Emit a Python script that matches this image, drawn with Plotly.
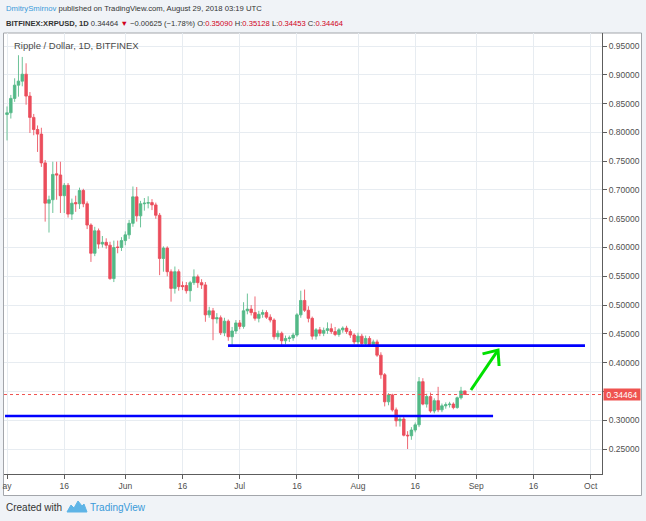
import plotly.graph_objects as go
import pandas as pd

# ---- daily XRPUSD candles, 1 May 2018 .. 29 Aug 2018 ----
start_date = "2018-05-01"
opens = [0.831, 0.834, 0.859, 0.882, 0.889, 0.901, 0.863, 0.826, 0.805, 0.797,
         0.747, 0.677, 0.683, 0.728, 0.726, 0.690, 0.708, 0.658, 0.678, 0.676,
         0.699, 0.676, 0.639, 0.590, 0.629, 0.606, 0.609, 0.604, 0.546, 0.601,
         0.600, 0.612, 0.622, 0.642, 0.688, 0.655, 0.676, 0.677, 0.678, 0.674,
         0.656, 0.581, 0.599, 0.558, 0.529, 0.558, 0.534, 0.534, 0.525, 0.539,
         0.549, 0.539, 0.535, 0.483, 0.490, 0.476, 0.478, 0.452, 0.472, 0.445,
         0.455, 0.469, 0.463, 0.490, 0.493, 0.487, 0.477, 0.484, 0.487, 0.479,
         0.474, 0.445, 0.451, 0.438, 0.442, 0.443, 0.448, 0.483, 0.508, 0.491,
         0.477, 0.446, 0.457, 0.451, 0.456, 0.459, 0.454, 0.449, 0.457, 0.460,
         0.454, 0.448, 0.436, 0.446, 0.433, 0.442, 0.431, 0.436, 0.413, 0.379,
         0.332, 0.344, 0.318, 0.299, 0.302, 0.274, 0.273, 0.283, 0.292, 0.367,
         0.328, 0.341, 0.316, 0.334, 0.318, 0.325, 0.327, 0.328, 0.322, 0.339,
         0.35090]
highs = [0.845, 0.865, 0.894, 0.934, 0.931, 0.920, 0.870, 0.832, 0.812, 0.808,
         0.752, 0.690, 0.749, 0.749, 0.749, 0.712, 0.712, 0.685, 0.690, 0.704,
         0.702, 0.680, 0.642, 0.636, 0.633, 0.620, 0.616, 0.610, 0.612, 0.612,
         0.618, 0.628, 0.648, 0.706, 0.705, 0.681, 0.686, 0.689, 0.684, 0.678,
         0.660, 0.602, 0.602, 0.562, 0.567, 0.562, 0.541, 0.540, 0.542, 0.562,
         0.553, 0.545, 0.540, 0.497, 0.495, 0.486, 0.482, 0.478, 0.475, 0.462,
         0.474, 0.474, 0.505, 0.520, 0.500, 0.515, 0.490, 0.492, 0.491, 0.484,
         0.477, 0.456, 0.454, 0.447, 0.447, 0.452, 0.486, 0.525, 0.527, 0.498,
         0.480, 0.460, 0.462, 0.461, 0.470, 0.468, 0.462, 0.460, 0.463, 0.464,
         0.458, 0.451, 0.452, 0.450, 0.447, 0.446, 0.440, 0.440, 0.418, 0.382,
         0.347, 0.346, 0.322, 0.309, 0.306, 0.281, 0.288, 0.296, 0.375, 0.373,
         0.346, 0.348, 0.338, 0.358, 0.329, 0.331, 0.332, 0.331, 0.341, 0.358,
         0.35128]
lows = [0.786, 0.824, 0.853, 0.862, 0.880, 0.848, 0.799, 0.795, 0.766, 0.740,
        0.645, 0.626, 0.660, 0.683, 0.660, 0.660, 0.652, 0.648, 0.662, 0.667,
        0.670, 0.632, 0.575, 0.585, 0.598, 0.600, 0.598, 0.544, 0.540, 0.590,
        0.594, 0.604, 0.615, 0.636, 0.645, 0.635, 0.664, 0.668, 0.665, 0.650,
        0.552, 0.558, 0.550, 0.506, 0.520, 0.525, 0.526, 0.520, 0.506, 0.535,
        0.530, 0.528, 0.471, 0.478, 0.439, 0.468, 0.448, 0.446, 0.438, 0.429,
        0.450, 0.458, 0.459, 0.484, 0.482, 0.473, 0.470, 0.478, 0.476, 0.470,
        0.440, 0.440, 0.428, 0.432, 0.436, 0.438, 0.445, 0.478, 0.488, 0.470,
        0.440, 0.440, 0.446, 0.446, 0.450, 0.450, 0.446, 0.445, 0.452, 0.450,
        0.443, 0.432, 0.431, 0.430, 0.429, 0.428, 0.429, 0.410, 0.372, 0.324,
        0.326, 0.315, 0.289, 0.289, 0.272, 0.250, 0.266, 0.279, 0.288, 0.326,
        0.322, 0.313, 0.312, 0.314, 0.314, 0.320, 0.322, 0.319, 0.320, 0.336,
        0.34453]
closes = [0.834, 0.859, 0.882, 0.889, 0.901, 0.863, 0.826, 0.805, 0.797, 0.747,
          0.677, 0.683, 0.727, 0.726, 0.690, 0.708, 0.658, 0.677, 0.676, 0.699,
          0.676, 0.639, 0.590, 0.629, 0.606, 0.609, 0.604, 0.546, 0.600, 0.600,
          0.612, 0.622, 0.642, 0.688, 0.655, 0.676, 0.677, 0.678, 0.674, 0.656,
          0.581, 0.599, 0.558, 0.529, 0.558, 0.532, 0.532, 0.525, 0.539, 0.549,
          0.539, 0.535, 0.483, 0.490, 0.476, 0.478, 0.452, 0.472, 0.445, 0.455,
          0.469, 0.463, 0.490, 0.493, 0.487, 0.477, 0.484, 0.487, 0.479, 0.474,
          0.445, 0.451, 0.438, 0.442, 0.443, 0.448, 0.483, 0.508, 0.491, 0.477,
          0.446, 0.457, 0.451, 0.456, 0.459, 0.454, 0.449, 0.457, 0.460, 0.454,
          0.448, 0.436, 0.446, 0.433, 0.442, 0.431, 0.436, 0.413, 0.379, 0.332,
          0.344, 0.318, 0.299, 0.302, 0.274, 0.273, 0.283, 0.292, 0.367, 0.328,
          0.341, 0.316, 0.334, 0.318, 0.325, 0.327, 0.328, 0.322, 0.339, 0.3509,
          0.34464]

# ---- drawings on the chart ----
support_dates = ["2018-04-30 11:30", "2018-09-05 09:40"]
support_prices = [0.3073, 0.3073]
resist_dates = ["2018-06-27 22:20", "2018-09-29 12:00"]
resist_prices = [0.4295, 0.4295]
arrow_dates = ["2018-08-30 14:30", "2018-09-06 16:50"]
arrow_prices = [0.3525, 0.4219]
arrowhead_dates = ["2018-09-02 15:20", "2018-09-06 16:50", "2018-09-06 23:45"]
arrowhead_prices = [0.4152, 0.4219, 0.3942]

# ---- axes ----
x_range = ["2018-04-30 05:00", "2018-10-03 23:00"]
y_range = [0.2066, 0.9726]
x_tick_vals = ["2018-05-01", "2018-05-16", "2018-06-01", "2018-06-16", "2018-07-01",
               "2018-07-16", "2018-08-01", "2018-08-16", "2018-09-01", "2018-09-16",
               "2018-10-01"]
x_tick_text = ["ay", "16", "Jun", "16", "Jul", "16", "Aug", "16", "Sep", "16", "Oct"]
y_tick_vals = [0.25, 0.30, 0.35, 0.40, 0.45, 0.50, 0.55, 0.60, 0.65, 0.70, 0.75,
               0.80, 0.85, 0.90, 0.95]
y_tick_text = ["%.5f" % v if abs(v - 0.35) > 1e-9 else "" for v in y_tick_vals]

dates = pd.date_range(start_date, periods=len(closes), freq="D")

UP = "#53b987"
DOWN = "#eb4d5c"
FONT = "Liberation Sans, Arial, sans-serif"

fig = go.Figure()
fig.add_trace(go.Candlestick(
    x=dates, open=opens, high=highs, low=lows, close=closes,
    increasing=dict(line=dict(color="rgba(83,185,135,0.85)", width=1), fillcolor=UP),
    decreasing=dict(line=dict(color="rgba(235,77,92,0.85)", width=1), fillcolor=DOWN),
    whiskerwidth=0, showlegend=False, hoverinfo="skip"))

fig.add_trace(go.Scatter(x=support_dates, y=support_prices, mode="lines",
                         line=dict(color="#0000ff", width=2.6), showlegend=False,
                         hoverinfo="skip"))
fig.add_trace(go.Scatter(x=resist_dates, y=resist_prices, mode="lines",
                         line=dict(color="#0000ff", width=2.6), showlegend=False,
                         hoverinfo="skip"))
fig.add_trace(go.Scatter(x=arrow_dates, y=arrow_prices, mode="lines",
                         line=dict(color="#00e000", width=3), showlegend=False,
                         hoverinfo="skip"))
fig.add_trace(go.Scatter(x=arrowhead_dates, y=arrowhead_prices, mode="lines",
                         line=dict(color="#00e000", width=3), showlegend=False,
                         hoverinfo="skip"))

W, H = 646, 521
L, R, T, B = 4, 44, 33, 47
pw, ph = W - L - R, H - T - B


def px(xp):
    return (xp - L) / pw


def py(yp):
    return (H - B - yp) / ph


last = closes[-1]
shapes = [
    # white chart panel with frame
    dict(type="rect", xref="paper", yref="paper", x0=px(3.5), x1=px(641.5),
         y0=py(495.5), y1=py(33), fillcolor="white",
         line=dict(color="#a3a6ab", width=1), layer="below"),
    # current price dotted line
    dict(type="line", xref="paper", yref="y", x0=0, x1=1, y0=last, y1=last,
         line=dict(color="#ef5350", width=1, dash="dot")),
]

# TradingView logo (small blue cloud shape)
logo_pts = [(67, 512), (71, 505), (74, 508), (78, 501), (82, 506), (84, 504), (87, 512)]
path = "M " + " L ".join("%.5f,%.5f" % (px(a), py(b)) for a, b in logo_pts) + " Z"
shapes.append(dict(type="path", xref="paper", yref="paper", path=path,
                   fillcolor="#5eb4e6", line=dict(color="#5eb4e6", width=1)))

red = "#d0021b"
line1 = ("<span style='color:#3a9ad9'>DmitrySmirnov</span>"
         " published on TradingView.com, August 29, 2018 03:19 UTC")
line2 = ("<b>BITFINEX:XRPUSD, 1D</b> 0.34464 <span style='color:%s'>▼</span> "
         "−0.00625 (−1.78%%) O:<span style='color:%s'>0.35090</span> "
         "H:<span style='color:%s'>0.35128</span> L:<span style='color:%s'>0.34453</span> "
         "C:<span style='color:%s'>0.34464</span>") % (red, red, red, red, red)

annotations = [
    dict(xref="paper", yref="paper", x=px(4), y=py(9), xanchor="left", yanchor="middle",
         text=line1, showarrow=False, font=dict(family=FONT, size=7.7, color="#333333")),
    dict(xref="paper", yref="paper", x=px(4), y=py(23), xanchor="left", yanchor="middle",
         text=line2, showarrow=False, font=dict(family=FONT, size=7.6, color="#333333")),
    dict(xref="paper", yref="paper", x=px(12), y=py(46), xanchor="left", yanchor="middle",
         text="Ripple / Dollar, 1D, BITFINEX", showarrow=False,
         font=dict(family=FONT, size=9.5, color="#4a4a4a")),
    dict(xref="paper", yref="y", x=1, y=last, xanchor="left", yanchor="middle",
         xshift=1, text="0.34464", showarrow=False, bgcolor="#ef5350",
         width=36, height=11, borderpad=0,
         font=dict(family=FONT, size=8.5, color="white")),
    dict(xref="paper", yref="paper", x=px(4), y=py(507), xanchor="left", yanchor="middle",
         text="Created with", showarrow=False,
         font=dict(family=FONT, size=10, color="#333333")),
    dict(xref="paper", yref="paper", x=px(88), y=py(507), xanchor="left", yanchor="middle",
         text="TradingView", showarrow=False,
         font=dict(family=FONT, size=10, color="#3a9ad9")),
]

fig.update_layout(
    width=W, height=H,
    margin=dict(l=L, r=R, t=T, b=B, pad=0),
    paper_bgcolor="#f0f3f7", plot_bgcolor="white",
    font=dict(family=FONT, size=8.5, color="#4f4f4f"),
    shapes=shapes, annotations=annotations,
    boxgap=0.05,
    xaxis=dict(type="date", range=x_range, rangeslider=dict(visible=False),
               tickvals=x_tick_vals, ticktext=x_tick_text, showgrid=True,
               gridcolor="#e7ecf1", gridwidth=1, showline=True, linecolor="#5d5d5d",
               linewidth=1, ticks="outside", ticklen=4, tickcolor="#5d5d5d",
               tickfont=dict(size=8.5, color="#4f4f4f"), zeroline=False, fixedrange=True),
    yaxis=dict(side="right", range=y_range, tickvals=y_tick_vals, ticktext=y_tick_text,
               showgrid=True, gridcolor="#e7ecf1", gridwidth=1, showline=True,
               linecolor="#5d5d5d", linewidth=1, ticks="outside", ticklen=4,
               tickcolor="#5d5d5d", tickfont=dict(size=8.5, color="#4f4f4f"),
               zeroline=False, fixedrange=True),
    hovermode=False,
)

fig.write_html("out.html", config={"displayModeBar": False})
